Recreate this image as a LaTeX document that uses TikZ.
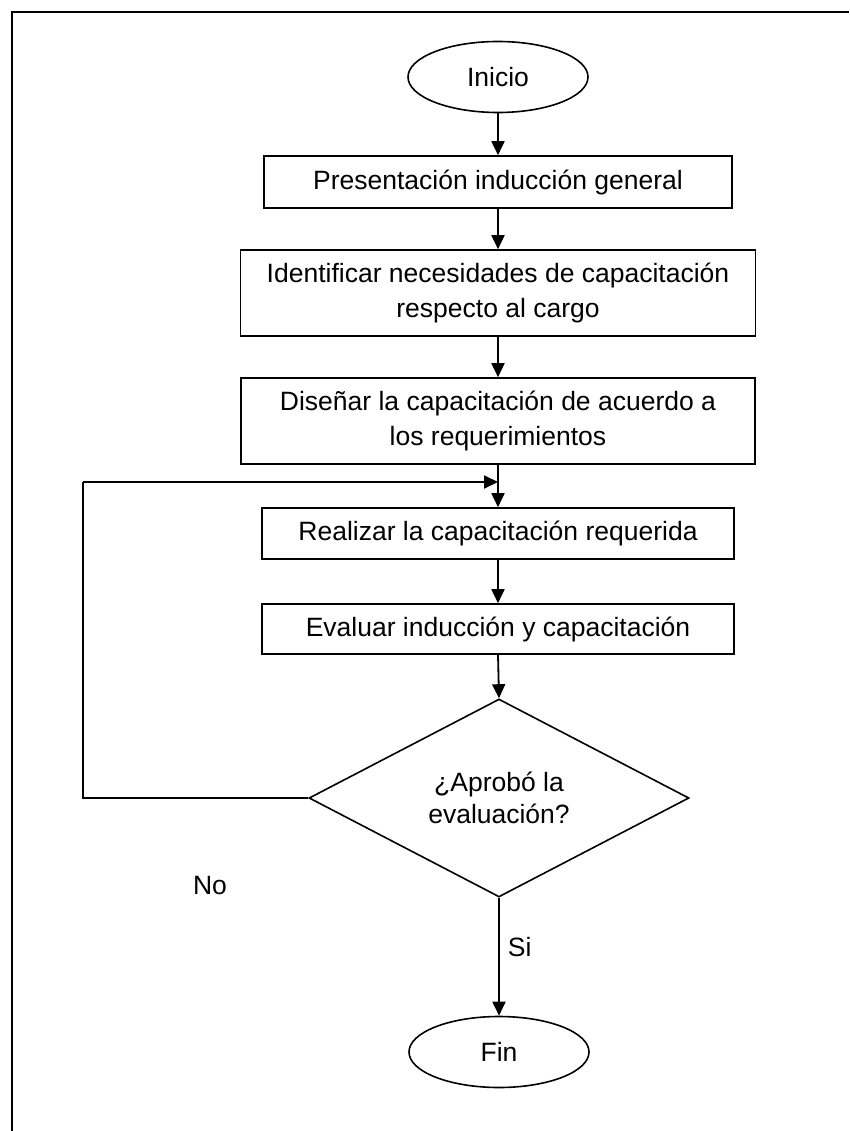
\documentclass[tikz,border=0pt]{standalone}
\usepackage{fontspec}
\setmainfont{Liberation Sans}
\usetikzlibrary{shapes.geometric,arrows.meta}
\begin{document}
\begin{tikzpicture}[x=1pt,y=-1pt,
  every node/.style={font=\fontsize{26.5}{31}\selectfont, inner sep=0pt},
  term/.style={draw, ellipse, line width=1.6pt, minimum width=180pt, minimum height=71pt},
  proc/.style={draw, rectangle, line width=1.6pt, align=center},
  dec/.style={draw, diamond, line width=1.6pt, align=center, minimum width=380pt, minimum height=198pt, aspect=1.92},
  conn/.style={line width=1.8pt, -{Triangle[length=14pt,width=13pt]}},
  line/.style={line width=1.8pt}]
\useasboundingbox (0,0) rectangle (849,1131);
\draw[line width=1.8pt] (12,1131) -- (12,12) -- (849,12);

\node[term] (ini) at (498,77) {Inicio};
\node[proc, minimum width=468pt, minimum height=52pt] (b1) at (498,182) {Presentación inducción general};
\node[proc, minimum width=515pt, minimum height=86pt] (b2) at (498,293) {Identificar necesidades de capacitación\\[4pt]respecto al cargo};
\node[proc, minimum width=514pt, minimum height=86pt] (b3) at (498,421) {Diseñar la capacitación de acuerdo a\\[4pt]los requerimientos};
\node[proc, minimum width=472pt, minimum height=51pt] (b4) at (498,533.5) {Realizar la capacitación requerida};
\node[proc, minimum width=472pt, minimum height=50pt] (b5) at (498,629) {Evaluar inducción y capacitación};
\node[dec] (d) at (499,798) {¿Aprobó la\\[1pt]evaluación?};
\node[term] (fin) at (499,1052) {Fin};

\draw[conn] (ini) -- (b1);
\draw[conn] (b1) -- (b2);
\draw[conn] (b2) -- (b3);
\draw[conn] (b3) -- (b4);
\draw[conn] (b4) -- (b5);
\draw[conn] (b5.south) -- (d.north);
\draw[conn] (d.south) -- node[right=8pt, pos=0.42] (si) {Si} (fin.north);

\coordinate (lb) at (83,482);
\draw[line] (d.west) -| (lb);
\draw[conn] (lb) -- (b3.south |- lb);

\node (no) at (210,886) {No};
\end{tikzpicture}
\end{document}
